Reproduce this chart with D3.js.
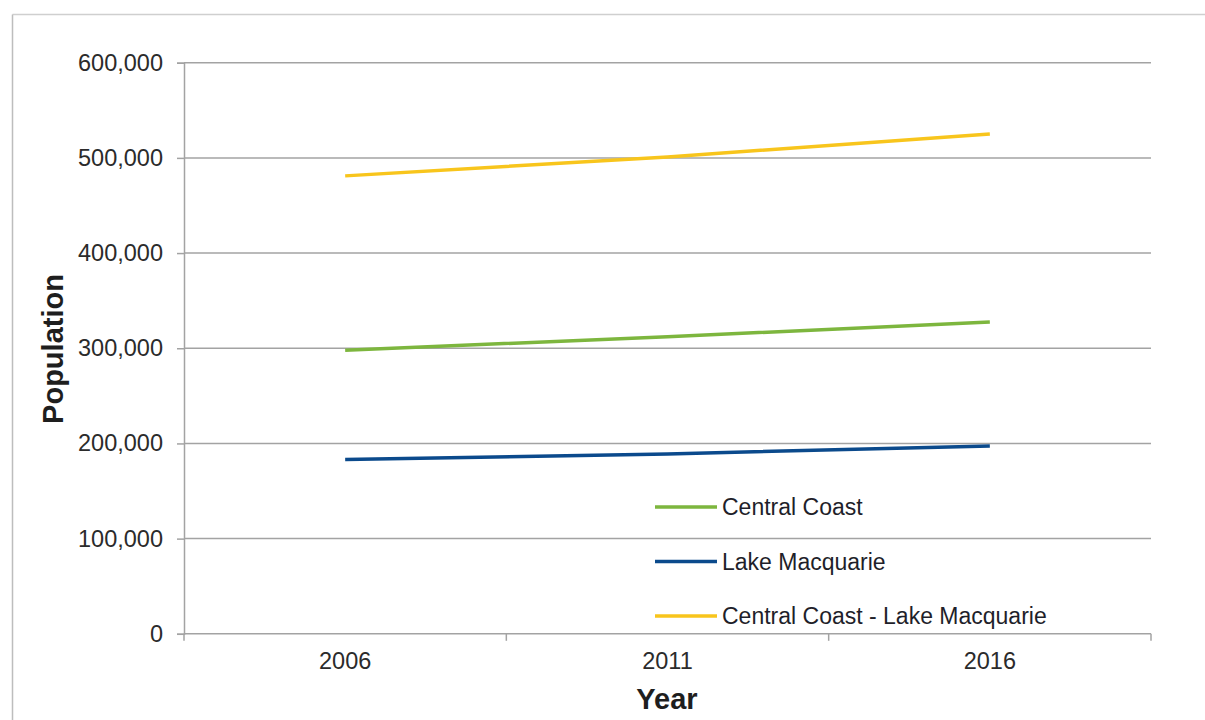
<!DOCTYPE html>
<html>
<head>
<meta charset="utf-8">
<script src="https://cdn.jsdelivr.net/npm/d3@7/dist/d3.min.js"></script>
<style>
  html, body { margin: 0; padding: 0; background: #fff; }
  svg { display: block; font-family: "Liberation Sans", Arial, sans-serif; }
</style>
</head>
<body>
<svg id="chart" width="1205" height="720"></svg>
<script>
// Population by region, census years
const years = ["2006", "2011", "2016"];
const centralCoast = [298000, 312000, 327700];
const lakeMacquarie = [183100, 189000, 197400];
const combined = [481100, 501000, 525100];
const yTicks = [0, 100000, 200000, 300000, 400000, 500000, 600000];

const seriesNames = ["Central Coast", "Lake Macquarie", "Central Coast - Lake Macquarie"];
const seriesColors = ["#7db63e", "#0b4a8c", "#f8c51c"];
const seriesValues = [centralCoast, lakeMacquarie, combined];

const svg = d3.select("#chart");
const plot = { left: 184, right: 1151, top: 62.7, bottom: 633.8 };

// Outer frame (top and left edges visible)
svg.append("line").attr("x1", 12.5).attr("x2", 1205).attr("y1", 14.5).attr("y2", 14.5)
  .attr("stroke", "#cfcfcf").attr("stroke-width", 1.5);
svg.append("line").attr("x1", 12.5).attr("x2", 12.5).attr("y1", 14.5).attr("y2", 720)
  .attr("stroke", "#bdbdbd").attr("stroke-width", 1.5);

const x = d3.scaleBand().domain(years).range([plot.left, plot.right]).padding(0);
const y = d3.scaleLinear().domain([0, 600000]).range([plot.bottom, plot.top]);

// Horizontal gridlines
svg.append("g").selectAll("line").data(yTicks.filter(d => d > 0)).join("line")
  .attr("x1", plot.left).attr("x2", plot.right)
  .attr("y1", d => y(d)).attr("y2", d => y(d))
  .attr("stroke", "#a3a3a3").attr("stroke-width", 1.5);

// Y axis
const yAxis = svg.append("g").attr("transform", `translate(${plot.left},0)`)
  .call(d3.axisLeft(y).tickValues(yTicks).tickFormat(d3.format(",")).tickSize(7).tickPadding(14));
yAxis.select(".domain").attr("stroke", "#a3a3a3").attr("stroke-width", 1.5);
yAxis.selectAll(".tick line").attr("stroke", "#a3a3a3").attr("stroke-width", 1.5);
yAxis.selectAll(".tick text").attr("font-size", 23.5).attr("fill", "#2b2b2b")
  .attr("font-family", "Liberation Sans, Arial, sans-serif");

// X axis with ticks at category boundaries
const xAxisG = svg.append("g").attr("transform", `translate(0,${plot.bottom})`);
xAxisG.append("line").attr("x1", plot.left).attr("x2", plot.right)
  .attr("stroke", "#a3a3a3").attr("stroke-width", 1.5);
const bounds = years.map(d => x(d)).concat([plot.right]);
xAxisG.selectAll("line.bound").data(bounds).join("line").attr("class", "bound")
  .attr("x1", d => d).attr("x2", d => d).attr("y1", 0).attr("y2", 7)
  .attr("stroke", "#a3a3a3").attr("stroke-width", 1.5);
xAxisG.selectAll("text").data(years).join("text")
  .attr("x", d => x(d) + x.bandwidth() / 2).attr("y", 35)
  .attr("text-anchor", "middle").attr("font-size", 23.5).attr("fill", "#2b2b2b")
  .text(d => d);

// Axis titles
svg.append("text").attr("transform", "translate(63,349) rotate(-90)")
  .attr("text-anchor", "middle").attr("font-size", 29).attr("font-weight", "bold")
  .attr("fill", "#1e1e1e").text("Population");
svg.append("text").attr("x", 667).attr("y", 709)
  .attr("text-anchor", "middle").attr("font-size", 29).attr("font-weight", "bold")
  .attr("fill", "#1e1e1e").text("Year");

// Series lines
const line = d3.line()
  .x((d, i) => x(years[i]) + x.bandwidth() / 2)
  .y(d => y(d));
seriesValues.forEach((vals, i) => {
  svg.append("path").datum(vals)
    .attr("d", line).attr("fill", "none")
    .attr("stroke", seriesColors[i]).attr("stroke-width", 3.5)
    .attr("stroke-linecap", "butt");
});

// Legend
const legend = svg.append("g").attr("transform", "translate(655,507)");
const rows = legend.selectAll("g").data(seriesNames).join("g")
  .attr("transform", (d, i) => `translate(0,${i * 54.5})`);
rows.append("line").attr("x1", 0).attr("x2", 62).attr("y1", 0).attr("y2", 0)
  .attr("stroke", (d, i) => seriesColors[i]).attr("stroke-width", 3.5);
rows.append("text").attr("x", 67).attr("y", 0).attr("dy", "0.35em")
  .attr("font-size", 23).attr("fill", "#1f1f2a").text(d => d);
</script>
</body>
</html>
